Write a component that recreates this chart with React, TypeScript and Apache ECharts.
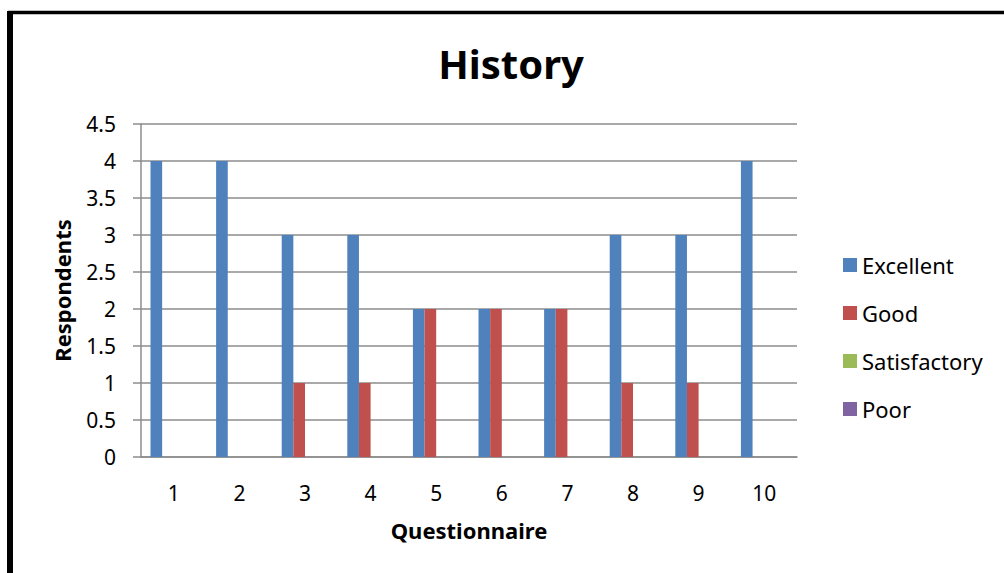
import React, { useEffect, useRef } from "react";
import * as echarts from "echarts";

const categories = ["1", "2", "3", "4", "5", "6", "7", "8", "9", "10"];
const excellent = [4, 4, 3, 3, 2, 2, 2, 3, 3, 4];
const good = [0, 0, 1, 1, 2, 2, 2, 1, 1, 0];
const satisfactory = [0, 0, 0, 0, 0, 0, 0, 0, 0, 0];
const poor = [0, 0, 0, 0, 0, 0, 0, 0, 0, 0];
const seriesNames = ["Excellent", "Good", "Satisfactory", "Poor"];
const colors = ["#4f81bd", "#c0504d", "#9bbb59", "#8064a2"];

const FONT = "'Noto Sans', 'Open Sans', sans-serif";

export default function App() {
  const ref = useRef<HTMLDivElement>(null);
  useEffect(() => {
    if (!ref.current) return;
    const chart = echarts.init(ref.current, undefined, { renderer: "svg" });
    const data = [excellent, good, satisfactory, poor];
    chart.setOption({
      animation: false,
      backgroundColor: "#ffffff",
      title: {
        text: "History",
        left: 506,
        top: 38,
        textAlign: "center",
        textStyle: { fontFamily: FONT, fontWeight: "bold", fontSize: 40, color: "#000" },
      },
      legend: {
        orient: "vertical",
        left: 838,
        top: 249,
        itemWidth: 14,
        itemHeight: 14,
        itemGap: 26,
        icon: "rect",
        data: seriesNames,
        textStyle: { fontFamily: FONT, fontSize: 22, color: "#000", padding: [0, 0, 0, 0] },
      },
      grid: { left: 141, right: 207, top: 124, bottom: 116, containLabel: false },
      xAxis: {
        type: "category",
        data: categories,
        name: "Questionnaire",
        nameLocation: "middle",
        nameGap: 62,
        nameTextStyle: { fontFamily: FONT, fontWeight: "bold", fontSize: 22, color: "#000" },
        axisLine: { lineStyle: { color: "#8c8c8c", width: 1.5 } },
        axisTick: { show: false },
        axisLabel: { fontFamily: FONT, fontSize: 21, color: "#000", margin: 25 },
      },
      yAxis: {
        type: "value",
        min: 0,
        max: 4.5,
        interval: 0.5,
        name: "Respondents",
        nameLocation: "middle",
        nameGap: 68,
        nameTextStyle: { fontFamily: FONT, fontWeight: "bold", fontSize: 22, color: "#000" },
        axisLine: { show: true, lineStyle: { color: "#8c8c8c", width: 1.5 } },
        axisTick: { show: true, length: 8, lineStyle: { color: "#8c8c8c", width: 1.5 } },
        splitLine: { lineStyle: { color: "#8c8c8c", width: 1.5 } },
        axisLabel: { fontFamily: FONT, fontSize: 21, color: "#000", margin: 25 },
      },
      series: seriesNames.map((name, i) => ({
        name,
        type: "bar",
        data: data[i],
        barGap: "0%",
        barCategoryGap: "29%",
        itemStyle: { color: colors[i] },
      })),
      graphic: [
        {
          type: "rect",
          shape: { x: 10, y: 12.5, width: 1000, height: 600 },
          style: { fill: "none", stroke: "#000", lineWidth: 3.5 },
          silent: true,
        },
        {
          type: "line",
          shape: { x1: 10, y1: 11, x2: 10, y2: 600 },
          style: { stroke: "#000", lineWidth: 6 },
          silent: true,
        },
      ],
    });
    return () => chart.dispose();
  }, []);
  return (
    <div
      ref={ref}
      style={{ position: "fixed", left: 0, top: 0, width: 1004, height: 573 }}
    />
  );
}
